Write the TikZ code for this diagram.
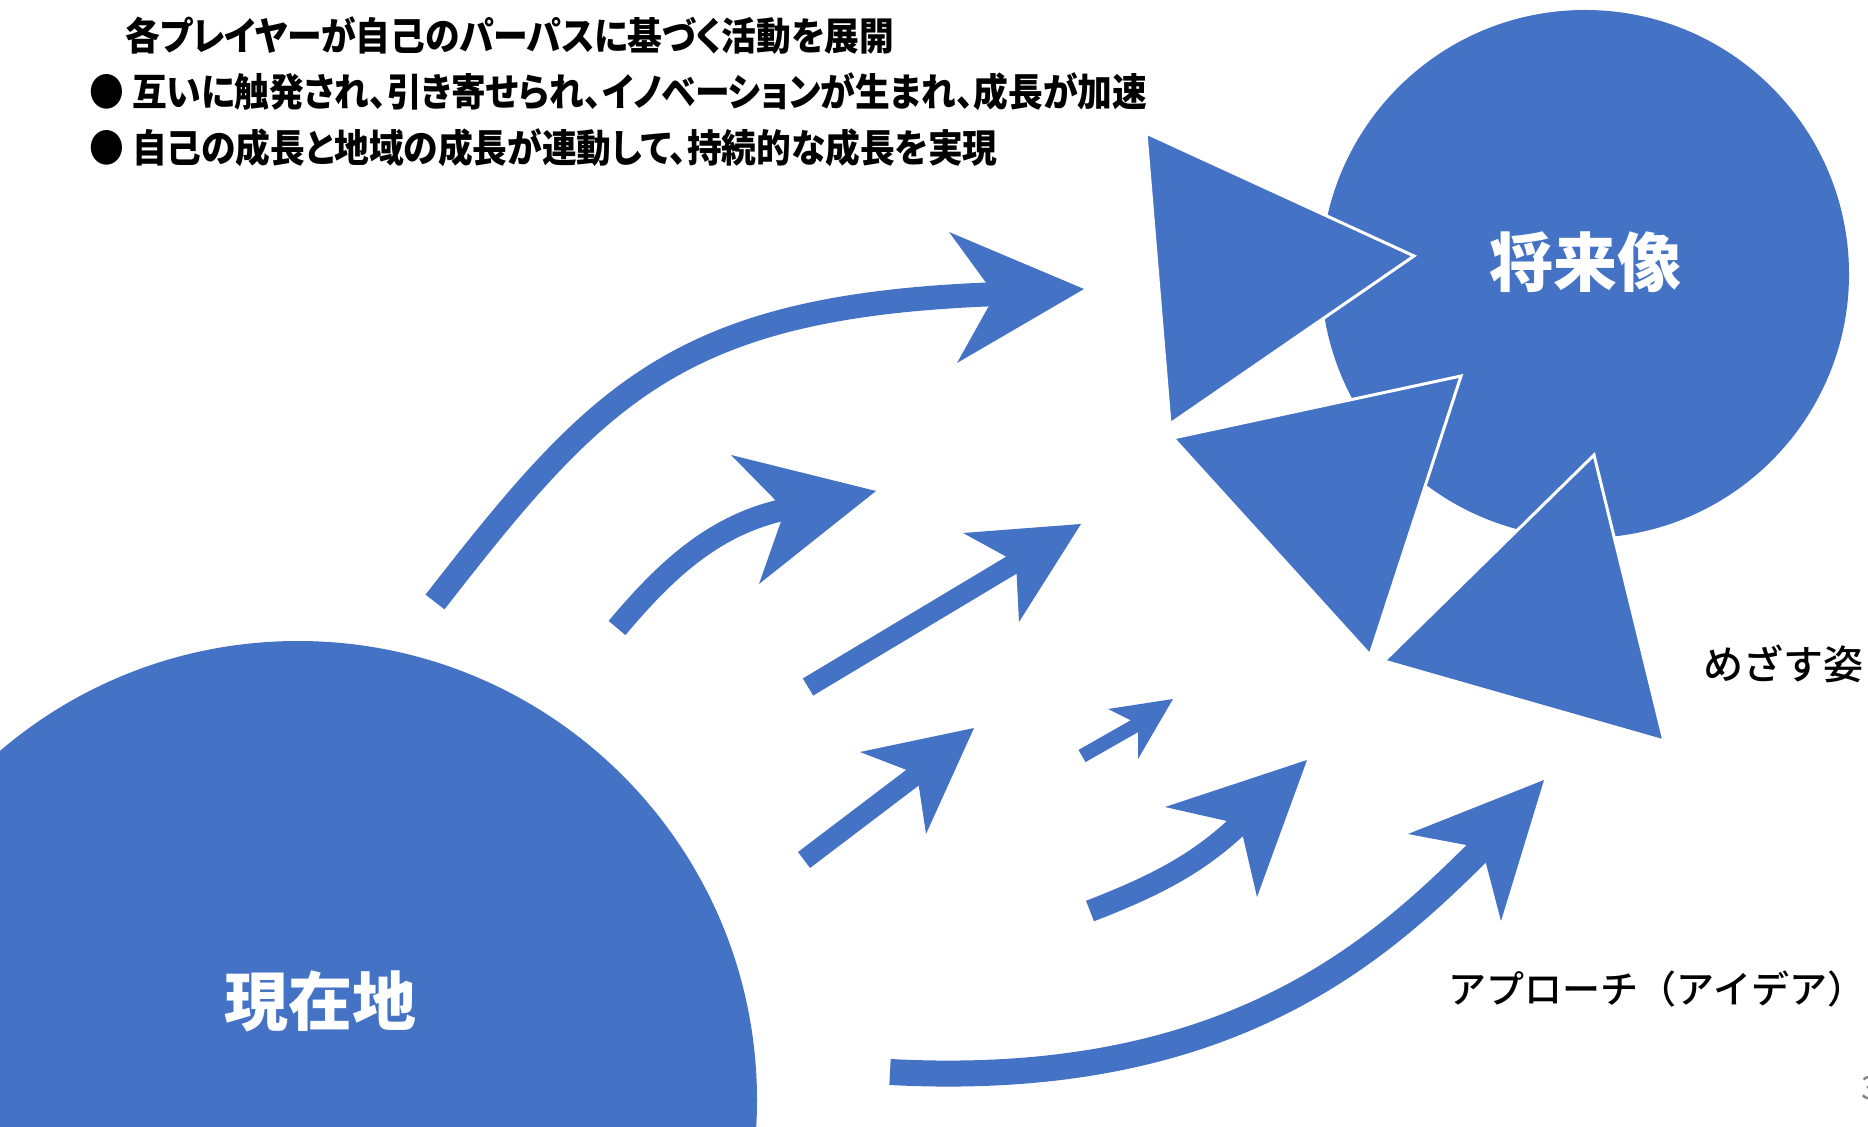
\documentclass[tikz,border=0pt]{standalone}
\usepackage{fontspec}
\setmainfont{Noto Sans CJK JP}
\newfontfamily\jpprop[RawFeature=+palt, FakeStretch=0.9]{Noto Sans CJK JP}
\newfontfamily\jpmedium{Noto Sans CJK JP Medium}
\usepackage{tikz}
\usetikzlibrary{positioning}
\definecolor{officeblue}{RGB}{68,114,196}
\tikzset{blob/.style={circle,fill=officeblue,inner sep=0pt},
	tri/.style={fill=officeblue,draw=white,line width=1.5pt},
	shaft/.style={draw=officeblue,line cap=butt},
	head/.style={fill=officeblue},
	big text/.style={text=white,inner sep=0pt,font=\bfseries\fontsize{32}{36}\selectfont},
	side text/.style={inner sep=0pt,font=\jpmedium\fontsize{20}{24}\selectfont},
	top line/.style={anchor=west,inner sep=0pt,font=\jpprop\bfseries\fontsize{19.3}{22}\selectfont},}

\begin{document}
\begin{tikzpicture}[x=0.5pt, y=-0.5pt]
	\useasboundingbox (0,0) rectangle (1868,1127);

	% heading
	\node[top line] (head) at (125,36) {各プレイヤーが自己のパーパスに基づく活動を展開};
	\node[top line] (point1) at (89,92) {● 互いに触発され、引き寄せられ、イノベーションが生まれ、成長が加速};
	\node[top line] (point2) at (89,148) {● 自己の成長と地域の成長が連動して、持続的な成長を実現};

	% goal
	\node[blob, minimum size=264pt] (future) at (1585,274) {};
	\node[big text] (futurelabel) at (1585,262) {将来像};
	\path[tri] (1146,133) -- (1414,256) -- (1170,424) -- cycle;
	\path[tri] (1173,438) -- (1461,376) -- (1370,655) -- cycle;
	\path[tri] (1594,455) -- (1664,741) -- (1384,661) -- cycle;
	\node[side text] (goal) at (1783,664) {めざす姿};

	% start
	\node[blob, minimum size=459pt] (now) at (298,1100) {};
	\node[big text] (nowlabel) at (320,1001) {現在地};

	% arrows
	\draw[shaft, line width=12pt] (435,602) .. controls (600,390) and (680,305) .. (1000,294);
	\fill[head] (1084,289) -- (949,232) -- (995,295) -- (957,363) -- cycle;

	\draw[shaft, line width=11pt] (617,628) .. controls (670,565) and (720,520) .. (797,507);
	\fill[head] (876,491) -- (731,455) -- (785,510) -- (759,584) -- cycle;

	\draw[shaft, line width=10pt] (808,687) -- (1020,560);
	\fill[head] (1081,524) -- (963,533) -- (1016,562) -- (1019,622) -- cycle;

	\draw[shaft, line width=10pt] (804,860) -- (920,772);
	\fill[head] (974,728) -- (860,752) -- (917,774) -- (926,834) -- cycle;

	\draw[shaft, line width=7pt] (1082,756) -- (1140,723);
	\fill[head] (1173,699) -- (1108,709) -- (1138,724) -- (1138,759) -- cycle;

	\draw[shaft, line width=11pt] (1090,911) .. controls (1160,884) and (1200,862) .. (1242,822);
	\fill[head] (1307,760) -- (1165,807) -- (1240,824) -- (1257,897) -- cycle;

	\draw[shaft, line width=13pt] (890,1072) .. controls (1230,1090) and (1380,950) .. (1484,846);
	\fill[head] (1544,780) -- (1408,834) -- (1482,848) -- (1501,921) -- cycle;

	\node[side text, font=\jpmedium\fontsize{19}{22}\selectfont] (approach) at (1657,989) {アプローチ（アイデア）};
	\node[anchor=west, inner sep=0pt, text=gray, font=\fontsize{16}{18}\selectfont] (page) at (1861,1088) {3};
\end{tikzpicture}
\end{document}
